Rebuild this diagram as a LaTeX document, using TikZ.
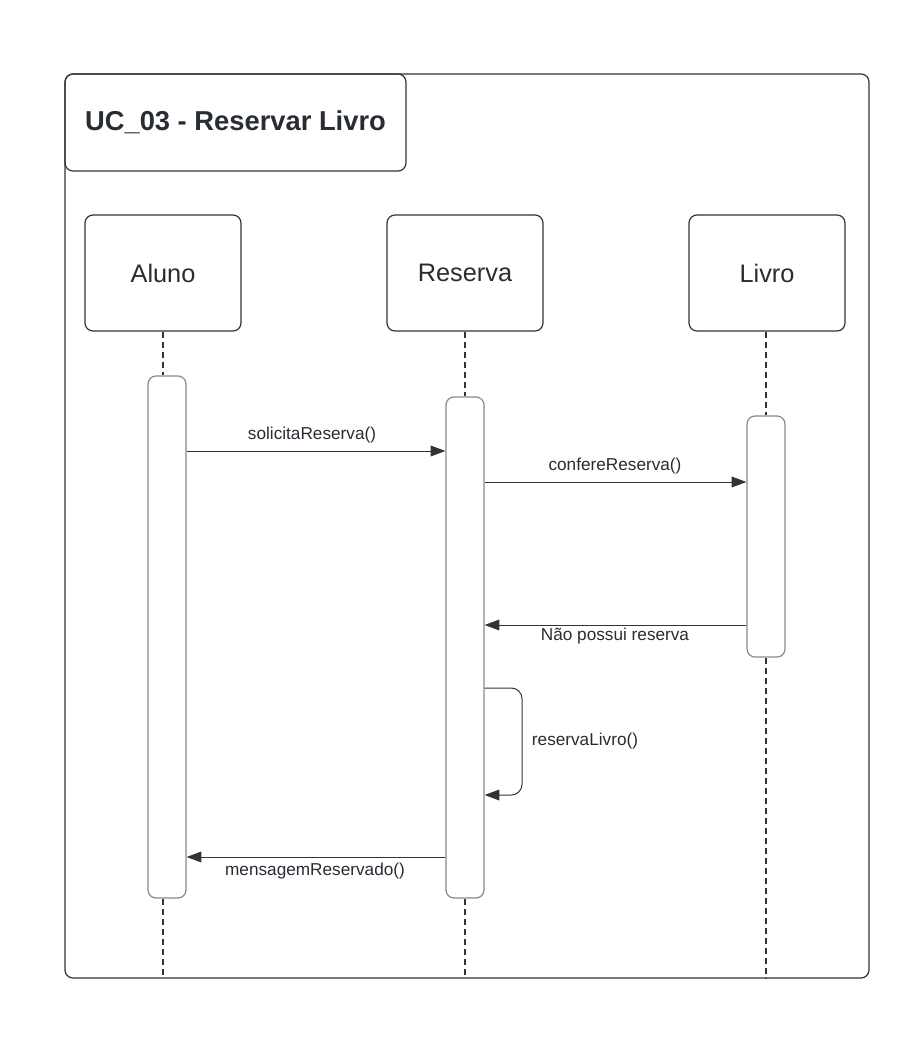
\documentclass[tikz,border=0pt]{standalone}
\usepackage{fontspec}
\setmainfont{Liberation Sans}
\usetikzlibrary{arrows.meta}
\definecolor{ln}{HTML}{333333}
\definecolor{actb}{HTML}{8A8A8A}
\definecolor{txt}{HTML}{282C33}
\tikzset{
  frame/.style={draw=ln, line width=0.9pt, rounded corners=6pt},
  headbox/.style={draw=ln, line width=0.9pt, rounded corners=6pt, minimum width=117pt, minimum height=87pt, inner sep=0pt, text=txt, font=\fontsize{19}{22}\selectfont},
  actbar/.style={draw=actb, line width=0.9pt, rounded corners=6pt, minimum width=28.5pt, inner sep=0pt, fill=white},
  life/.style={draw=ln, line width=1.1pt, dash pattern=on 4.5pt off 3pt},
  msg/.style={draw=ln, line width=0.75pt, -{Triangle[length=11pt,width=8pt]}},
  lbl/.style={text=txt, font=\fontsize{12.9}{15}\selectfont, inner sep=0pt}
}
\begin{document}
\begin{tikzpicture}[x=0.75pt,y=-0.75pt]
\useasboundingbox[fill=white] (0,0) rectangle (923,1052);
% frame and title
\node[frame, minimum width=603pt, minimum height=678pt, inner sep=0pt] (frame) at (467,526) {};
\node[frame, minimum width=255.75pt, minimum height=72.75pt, inner sep=0pt, text=txt, font=\bfseries\fontsize{20.5}{24}\selectfont] (title) at (235.5,122.5) {UC\_03 - Reservar Livro};
% heads
\node[headbox] (A) at (163,273) {Aluno};
\node[headbox] (R) at (465,273) {Reserva};
\node[headbox] (L) at (767,273) {Livro};
% bottom ends of lifelines
\coordinate (Aend) at (163,978);
\coordinate (Rend) at (465,978);
\coordinate (Lend) at (766,978);
% activation bars
\node[actbar, minimum height=391.5pt] (Aa) at (167,637) {};
\node[actbar, minimum height=375.75pt] (Ra) at (465,647.5) {};
\node[actbar, minimum height=180.75pt] (La) at (766,536.5) {};
% lifelines
\draw[life] (A.south) -- (A.south |- Aa.north);
\draw[life] (Aend |- Aa.south) -- (Aend);
\draw[life] (R.south) -- (Ra.north);
\draw[life] (Ra.south) -- (Rend);
\draw[life] (L.south -| La.north) -- (La.north);
\draw[life] (La.south) -- (Lend);
% messages
\draw[msg] (Aa.east |- 0,451) -- (Ra.west |- 0,451);
\node[lbl] (m1) at (312,435) {solicitaReserva()};
\draw[msg] (Ra.east |- 0,482) -- (La.west |- 0,482);
\node[lbl] (m2) at (615,466) {confereReserva()};
\draw[msg] (La.west |- 0,625) -- (Ra.east |- 0,625);
\node[lbl] (m3) at (615,636) {Não possui reserva};
\draw[msg, rounded corners=8pt] (Ra.east |- 0,688) -- (522,688) -- (522,795) -- (Ra.east |- 0,795);
\node[lbl] (m4) at (585,741) {reservaLivro()};
\draw[msg] (Ra.west |- 0,857) -- (Aa.east |- 0,857);
\node[lbl] (m5) at (315,871) {mensagemReservado()};
\end{tikzpicture}
\end{document}
